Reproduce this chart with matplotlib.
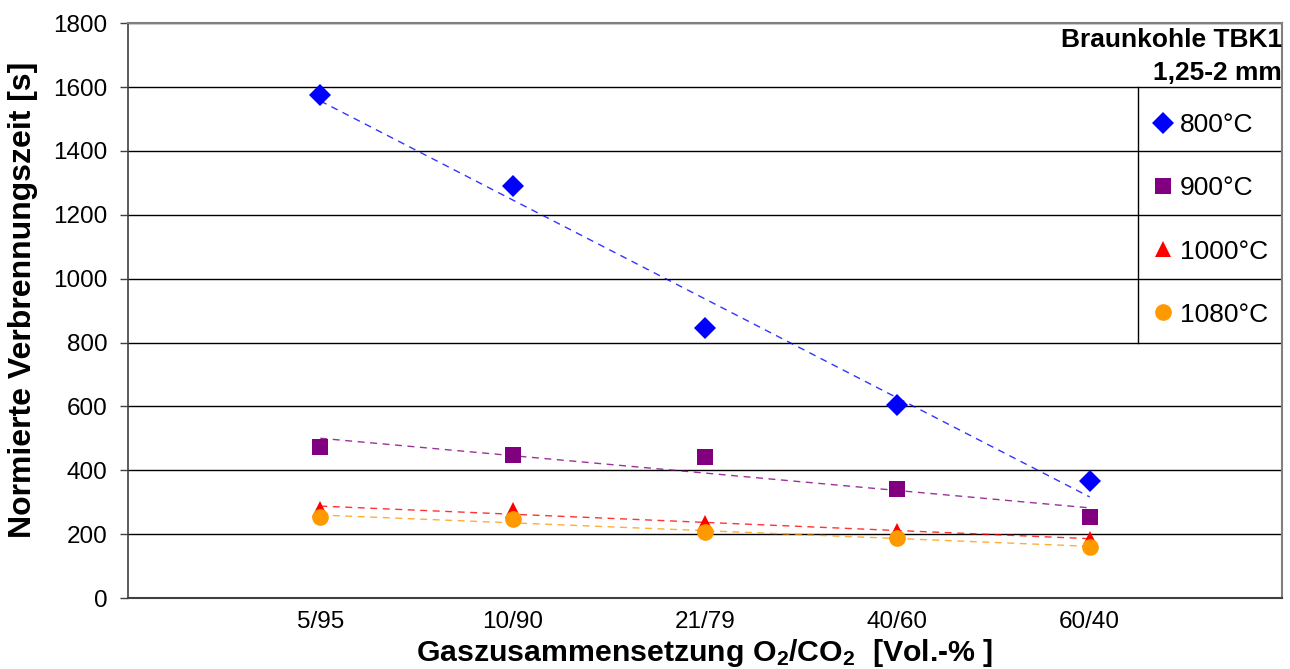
import numpy as np
import matplotlib
matplotlib.use("Agg")
import matplotlib.pyplot as plt

plt.rcParams['font.family'] = ['Liberation Sans', 'DejaVu Sans']
plt.rcParams['mathtext.fontset'] = 'custom'
plt.rcParams['mathtext.rm'] = 'Liberation Sans'
plt.rcParams['mathtext.bf'] = 'Liberation Sans:bold'
plt.rcParams['mathtext.default'] = 'bf'

# data
categories = ['5/95', '10/90', '21/79', '40/60', '60/40']
t800 = [1575, 1290, 845, 605, 368]
t900 = [473, 448, 441, 341, 254]
t1000 = [280, 275, 235, 210, 185]
t1080 = [253, 247, 207, 188, 160]

series = [
    ('800°C', t800, '#0000FF', 'D', 11),
    ('900°C', t900, '#800080', 's', 12),
    ('1000°C', t1000, '#FF0000', '^', 12),
    ('1080°C', t1080, '#FF9900', 'o', 12),
]

fig = plt.figure(figsize=(12.9, 6.69), dpi=100)
ax = fig.add_axes([0.0992, 0.106, 0.8946, 0.8594])

x = np.arange(1, len(categories) + 1)

for label, vals, color, marker, ms in series:
    # linear trend line like the spreadsheet trendline
    k, d = np.polyfit(x, vals, 1)
    ax.plot(x, k * x + d, linestyle=(0, (5, 4)), color=color, linewidth=1.0,
            alpha=0.8, zorder=2)
for label, vals, color, marker, ms in series:
    ax.plot(x, vals, linestyle='none', marker=marker, markersize=ms,
            color=color, markeredgewidth=0, label=label, zorder=3)

ax.set_xlim(0, 6)
ax.set_ylim(0, 1800)
ax.set_yticks(np.arange(0, 1801, 200))
ax.set_xticks(x)
ax.set_xticklabels(categories)
ax.yaxis.grid(True, color='black', linewidth=1.0)
ax.set_axisbelow(True)

ax.tick_params(axis='y', direction='out', length=6, width=1, color='#404040',
               labelsize=17.5, pad=9)
ax.tick_params(axis='x', length=0, labelsize=17.5, pad=9)

for s in ['top', 'right']:
    ax.spines[s].set_color('#808080')
    ax.spines[s].set_linewidth(1.5)
ax.spines['left'].set_color('#404040')
ax.spines['left'].set_linewidth(1.2)
ax.spines['bottom'].set_color('#404040')
ax.spines['bottom'].set_linewidth(1.5)

ax.set_ylabel('Normierte Verbrennungszeit [s]', fontsize=23, fontweight='bold')
ax.yaxis.set_label_coords(-0.078, 0.519)
ax.set_xlabel('Gaszusammensetzung O$_2$/CO$_2$  [Vol.-% ]', fontsize=21.8,
              fontweight='bold', labelpad=3)

ax.text(1.0, 0.942, 'Braunkohle TBK1\n1,25-2 mm', transform=ax.transAxes,
        ha='right', va='center', fontsize=19, fontweight='bold',
        linespacing=1.45)

# legend without frame, only its left edge between the 800 and 1600 gridlines
leg = ax.legend(loc='upper left', bbox_to_anchor=(0.8657, 0.8889), fontsize=19,
                frameon=False, labelspacing=1.48,
                handlelength=0.7, handletextpad=0.3, borderpad=1.0,
                borderaxespad=0, markerscale=1.0)
ax.plot([0.8752, 0.8752], [800 / 1800, 1600 / 1800], transform=ax.transAxes,
        color='black', linewidth=1.0, clip_on=False, zorder=4)

fig.savefig('out.png', dpi=100)
